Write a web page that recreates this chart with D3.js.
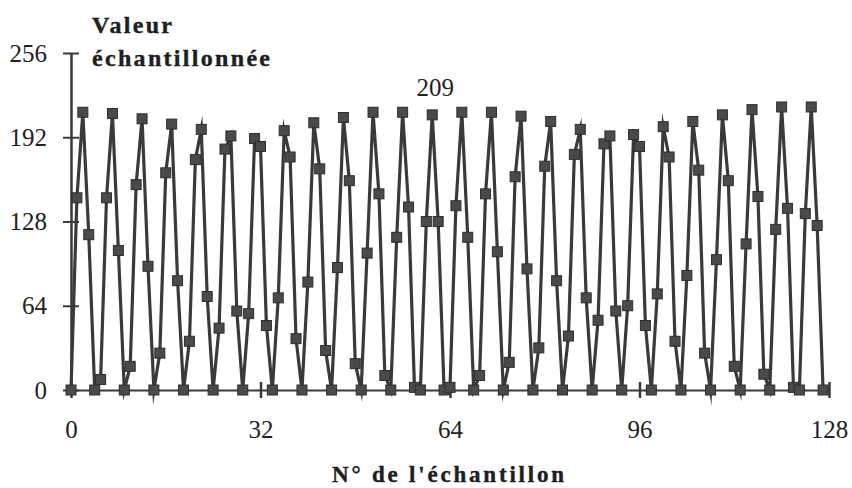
<!DOCTYPE html>
<html><head><meta charset="utf-8">
<script src="https://cdn.jsdelivr.net/npm/d3@7"></script>
<style>body{margin:0;background:#fff}</style>
</head><body><svg id="c" width="852" height="488"></svg>
<script>
// Sample values (index 0..127)
const samples = [
  0,146,211,118,  0,  8,146,210,106,  0,
 18,156,206, 94,  0, 28,165,202, 83,  0,
 37,175,198, 71,  0, 47,183,193, 60,  0,
 58,191,185, 49,  0, 70,197,177, 39,  0,
 82,203,168, 30,  0, 93,207,159, 20,  0,
104,211,149, 11,  0,116,211,139,  2,  0,
128,209,128,  0,  2,140,211,116,  0, 11,
149,211,105,  0, 21,162,208, 92,  0, 32,
170,204, 83,  0, 41,179,198, 70,  0, 53,
187,193, 60,  0, 64,194,185, 49,  0, 73,
200,177, 37,  0, 87,204,167, 28,  0, 99,
209,159, 18,  0,111,213,147, 12,  0,122,
215,138,  2,  0,134,215,125,  0
];
const xTickValues = [0, 32, 64, 96, 128];
const yTickValues = [0, 64, 128, 192, 256];
const yTitleLines = ["Valeur", "échantillonnée"];
const xTitle = "N° de l'échantillon";
const peakIndex = 61;
const peakText = "209";

const svg = d3.select("#c");
const x = d3.scaleLinear().domain([0, 128]).range([71, 829]);
const y = d3.scaleLinear().domain([0, 256]).range([390, 53]);
const ink = "#3a3a3a";
const serif = "'Liberation Serif','Times New Roman',serif";

// X axis
const gx = svg.append("g").attr("transform", "translate(0,390)")
  .call(d3.axisBottom(x).tickValues(xTickValues).tickSizeInner(8).tickSizeOuter(0).tickPadding(22));
gx.select(".domain").attr("stroke", ink).attr("stroke-width", 2);
gx.selectAll(".tick line").attr("y1", -8).attr("y2", 8).attr("stroke", ink).attr("stroke-width", 2.5);
gx.selectAll(".tick text").attr("font-family", serif).attr("font-size", 25).attr("fill", "#222");

// Y axis
const gy = svg.append("g").attr("transform", "translate(71,0)")
  .call(d3.axisLeft(y).tickValues(yTickValues).tickSizeInner(8).tickSizeOuter(0).tickPadding(16));
gy.select(".domain").attr("stroke", ink).attr("stroke-width", 2.5);
gy.selectAll(".tick line").attr("x1", 8).attr("x2", -8).attr("stroke", ink).attr("stroke-width", 2);
gy.selectAll(".tick text").attr("font-family", serif).attr("font-size", 25).attr("fill", "#222");

// Line
const line = d3.line().x((d, i) => x(i)).y(d => y(d));
svg.append("path").datum(samples)
  .attr("d", line).attr("fill", "none")
  .attr("stroke", ink).attr("stroke-width", 3.2).attr("stroke-linejoin", "miter").attr("stroke-miterlimit", 10);

// Markers
const ms = 10;
svg.append("g").selectAll("rect").data(samples).join("rect")
  .attr("x", (d, i) => x(i) - ms / 2).attr("y", d => y(d) - ms / 2)
  .attr("width", ms).attr("height", ms)
  .attr("fill", "#4a4a4a").attr("stroke", "#2e2e2e").attr("stroke-width", 1);

// Peak annotation
svg.append("text").attr("x", x(peakIndex) + 3).attr("y", y(samples[peakIndex]) - 19)
  .attr("text-anchor", "middle").attr("font-family", serif).attr("font-size", 25).attr("fill", "#222")
  .text(peakText);

// Titles
const titleFont = "'Liberation Serif','Times New Roman',serif";
function boldText(px, py, size, len, str) {
  svg.append("text").attr("x", px).attr("y", py).attr("font-family", titleFont).attr("font-weight", "bold")
    .attr("font-size", size).attr("fill", "#1e1e1e").attr("stroke", "#1e1e1e").attr("stroke-width", 0.4)
    .attr("textLength", len).attr("lengthAdjust", "spacing")
    .text(str);
}
boldText(92, 33, 24, 80, yTitleLines[0]);
boldText(92, 66, 24, 178, yTitleLines[1]);
boldText(332, 482, 23, 232, xTitle);
</script></body></html>
